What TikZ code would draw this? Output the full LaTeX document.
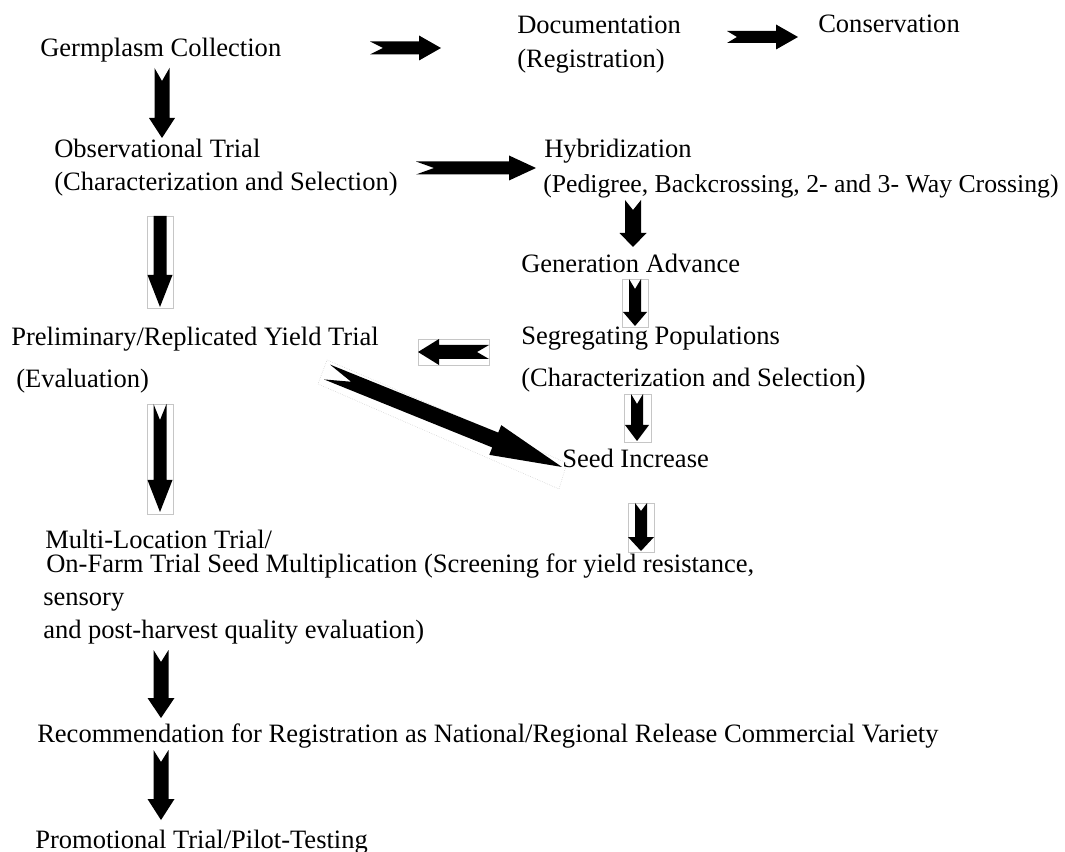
\documentclass[tikz,border=0pt]{standalone}
\usepackage{fontspec}
\setmainfont{Liberation Serif}
\usetikzlibrary{calc}

% notched block arrow: tail, tip, body half width, head half width, head length, notch depth (px)
\newcommand{\blockarrow}[6]{%
  \coordinate (ba-h) at ($(#2)!#5*0.75pt!(#1)$);
  \fill ($(#1)!#6*0.75pt!(#2)$)
     -- ($(#1)!#3*0.75pt!90:(#2)$)
     -- ($(ba-h)!#3*0.75pt!90:(#2)$)
     -- ($(ba-h)!#4*0.75pt!90:(#2)$)
     -- (#2)
     -- ($(ba-h)!#4*0.75pt!-90:(#2)$)
     -- ($(ba-h)!#3*0.75pt!-90:(#2)$)
     -- ($(#1)!#3*0.75pt!-90:(#2)$)
     -- cycle;}

\tikzset{
  txt/.style={anchor=base west, inner sep=0pt, font=\fontsize{19.9pt}{24pt}\selectfont},
  fr/.style={draw=gray!45, line width=0.4pt}
}

\begin{document}
\begin{tikzpicture}[x=0.75pt, y=-0.75pt]
\useasboundingbox (0,0) rectangle (1065,852);

\node[txt] (germ) at (40,57) {Germplasm Collection};
\node[txt] (doc) at (517,34) {Documentation};
\node[txt] (docb) at (517,68) {(Registration)};
\node[txt] (cons) at (818,33) {Conservation};
\node[txt] (obs) at (54,158) {Observational Trial};
\node[txt] (obsb) at (54,191) {(Characterization and Selection)};
\node[txt] (hyb) at (544,158) {Hybridization};
\node[txt, font=\fontsize{19.3pt}{24pt}\selectfont] (hybb) at (543,193) {(Pedigree, Backcrossing, 2- and 3- Way Crossing)};
\node[txt] (gen) at (521,273) {Generation Advance};
\node[txt] (prelim) at (11,346) {Preliminary/Replicated Yield Trial};
\node[txt] (prelimb) at (16,388) {(Evaluation)};
\node[txt] (seg) at (521,345) {Segregating Populations};
\node[txt] (segb) at (521,387) {(Characterization and Selection{\fontsize{23pt}{24pt}\selectfont)}};
\node[txt] (seed) at (562,468) {Seed Increase};
\node[txt] (multi) at (45,548) {Multi-Location Trial/};
\node[txt] (multib) at (46,572) {On-Farm Trial Seed Multiplication (Screening for yield resistance,};
\node[txt] (multic) at (43,605) {sensory};
\node[txt] (multid) at (43,638) {and post-harvest quality evaluation)};
\node[txt] (rec) at (37,742) {Recommendation for Registration as National/Regional Release Commercial Variety};
\node[txt] (promo) at (35,848) {Promotional Trial/Pilot-Testing};

% arrow ends
\coordinate (germ-r) at (370,48);   \coordinate (doc-l) at (441,48);
\coordinate (doc-r) at (727,37);    \coordinate (cons-l) at (798,37);
\coordinate (germ-b) at (162,68);   \coordinate (obs-t) at (162,138);
\coordinate (obs-r) at (416,168);   \coordinate (hyb-l) at (536,168);
\coordinate (obs-b) at (160,216);   \coordinate (prelim-t) at (160,307);
\coordinate (hyb-b) at (633,200);   \coordinate (gen-t) at (633,247);
\coordinate (gen-b) at (635,279);   \coordinate (seg-t) at (635,326);
\coordinate (seg-l) at (489,352);   \coordinate (prelim-r) at (418,352);
\coordinate (prelim-d) at (327,372); \coordinate (seed-l) at (562,467);
\coordinate (segb-b) at (637,394);  \coordinate (seed-t) at (637,441);
\coordinate (prelim-b) at (160,404); \coordinate (multi-t) at (160,512);
\coordinate (seed-b) at (641,503);  \coordinate (multib-t) at (641,551);
\coordinate (multi-b) at (161,650); \coordinate (rec-t) at (161,718);
\coordinate (rec-b) at (161,750);   \coordinate (promo-t) at (161,820);

% faint boxes round some arrows
\draw[fr] (147.5,216) rectangle (173.5,308);
\draw[fr] (622,279) rectangle (648,327);
\draw[fr] (418,339) rectangle (489,365);
\draw[fr, densely dotted] (327,360) -- (567,463) -- (559,489) -- (318,384) -- cycle;
\draw[fr] (624,394) rectangle (651,442);
\draw[fr] (147.5,404) rectangle (173.5,514);
\draw[fr] (628,503) rectangle (654,552);

\blockarrow{germ-r}{doc-l}{6.5}{12.5}{22}{13}
\blockarrow{doc-r}{cons-l}{6}{12.5}{22}{10}
\blockarrow{germ-b}{obs-t}{7.5}{13}{20}{13}
\blockarrow{obs-r}{hyb-l}{6.5}{12.5}{27}{18}
\blockarrow{obs-b}{prelim-t}{6.5}{12.5}{32}{0}
\blockarrow{hyb-b}{gen-t}{8}{13.5}{14}{10}
\blockarrow{gen-b}{seg-t}{6}{12}{14}{10}
\blockarrow{seg-l}{prelim-r}{7}{13}{21}{12}
\blockarrow{prelim-d}{seed-l}{8}{16}{72}{26}
\blockarrow{segb-b}{seed-t}{6}{12}{16}{10}
\blockarrow{prelim-b}{multi-t}{6.5}{12.5}{32}{16}
\blockarrow{seed-b}{multib-t}{6}{13}{14}{8}
\blockarrow{multi-b}{rec-t}{7.5}{13.5}{20}{12}
\blockarrow{rec-b}{promo-t}{7.5}{13.5}{21}{12}
\end{tikzpicture}
\end{document}
